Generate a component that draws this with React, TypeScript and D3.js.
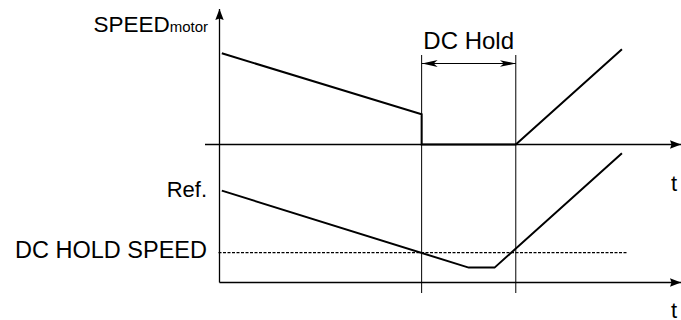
import React from 'react'
import * as d3 from 'd3'

// time marks (arbitrary units 0..10 along the t axis)
const holdStart = 4.38
const holdEnd = 6.42
const tAxisEnd = 10

// motor speed trace (top panel)
const motorTimes = [0.05, holdStart, holdStart, holdEnd, 8.72]
const motorSpeeds = [6.68, 2.21, 0, 0, 6.97]

// reference trace (bottom panel)
const refTimes = [0.05, 5.4, 5.96, 8.72]
const refSpeeds = [6.73, 1.09, 1.09, 9.47]

const dcHoldSpeed = 2.19
const dcHoldLineEnd = 8.82

const W = 681
const H = 320

export default function App() {
  const x = d3.scaleLinear().domain([0, tAxisEnd]).range([219.5, 681])
  const yTop = d3.scaleLinear().domain([0, 10]).range([144.5, 8])
  const yBot = d3.scaleLinear().domain([0, 10]).range([282.5, 146])

  const motorLine = d3
    .line<number>()
    .x((d, i) => x(motorTimes[i]))
    .y(d => yTop(d))
  const refLine = d3
    .line<number>()
    .x((d, i) => x(refTimes[i]))
    .y(d => yBot(d))

  const font = 'Arial, "Liberation Sans", sans-serif'
  const x0 = x(0)

  return (
    <svg
      width={W}
      height={H}
      style={{ position: 'absolute', left: 0, top: 0, background: '#fff' }}
    >
      <defs>
        <marker
          id="ax"
          markerUnits="userSpaceOnUse"
          viewBox="0 0 12 10"
          refX="11"
          refY="5"
          markerWidth="12"
          markerHeight="10"
          orient="auto"
        >
          <path d="M0,0.8 L11,5 L0,9.2 L1.5,5 Z" fill="#000" />
        </marker>
        <marker
          id="dim"
          markerUnits="userSpaceOnUse"
          viewBox="0 0 16 8"
          refX="16"
          refY="4"
          markerWidth="16"
          markerHeight="8"
          orient="auto-start-reverse"
        >
          <path d="M0,0.6 L16,4 L0,7.4 L4,4 Z" fill="#000" />
        </marker>
      </defs>

      {/* axes */}
      <line x1={x0} y1={yBot(0)} x2={x0} y2={9} stroke="#000" strokeWidth={1.3} markerEnd="url(#ax)" />
      <line x1={205} y1={yTop(0)} x2={681} y2={yTop(0)} stroke="#000" strokeWidth={1.3} markerEnd="url(#ax)" />
      <line x1={x0} y1={yBot(0)} x2={681} y2={yBot(0)} stroke="#000" strokeWidth={1.3} markerEnd="url(#ax)" />

      {/* hold boundaries */}
      {[holdStart, holdEnd].map((t, i) => (
        <line key={i} x1={x(t)} y1={55} x2={x(t)} y2={293} stroke="#000" strokeWidth={1} />
      ))}

      {/* DC Hold dimension */}
      <line
        x1={x(holdStart)}
        y1={63.5}
        x2={x(holdEnd)}
        y2={63.5}
        stroke="#000"
        strokeWidth={1}
        markerStart="url(#dim)"
        markerEnd="url(#dim)"
      />
      <text x={(x(holdStart) + x(holdEnd)) / 2} y={49} textAnchor="middle" fontFamily={font} fontSize={24}>
        DC Hold
      </text>

      {/* DC hold speed level */}
      <line
        x1={x0 - 1}
        y1={yBot(dcHoldSpeed)}
        x2={x(dcHoldLineEnd)}
        y2={yBot(dcHoldSpeed)}
        stroke="#000"
        strokeWidth={1.3}
        strokeDasharray="3,1.5"
      />

      {/* traces */}
      <path d={motorLine(motorSpeeds) || ''} fill="none" stroke="#000" strokeWidth={2} />
      <path d={refLine(refSpeeds) || ''} fill="none" stroke="#000" strokeWidth={2} />

      {/* labels */}
      <text x={208} y={32} textAnchor="end" fontFamily={font} fontSize={22.5}>
        SPEED<tspan fontSize={15}>motor</tspan>
      </text>
      <text x={207} y={196.5} textAnchor="end" fontFamily={font} fontSize={22}>
        Ref.
      </text>
      <text x={207} y={257.5} textAnchor="end" fontFamily={font} fontSize={23.5}>
        DC HOLD SPEED
      </text>
      <text x={671} y={190.5} fontFamily={font} fontSize={22}>
        t
      </text>
      <text x={671} y={317.5} fontFamily={font} fontSize={22}>
        t
      </text>
    </svg>
  )
}
